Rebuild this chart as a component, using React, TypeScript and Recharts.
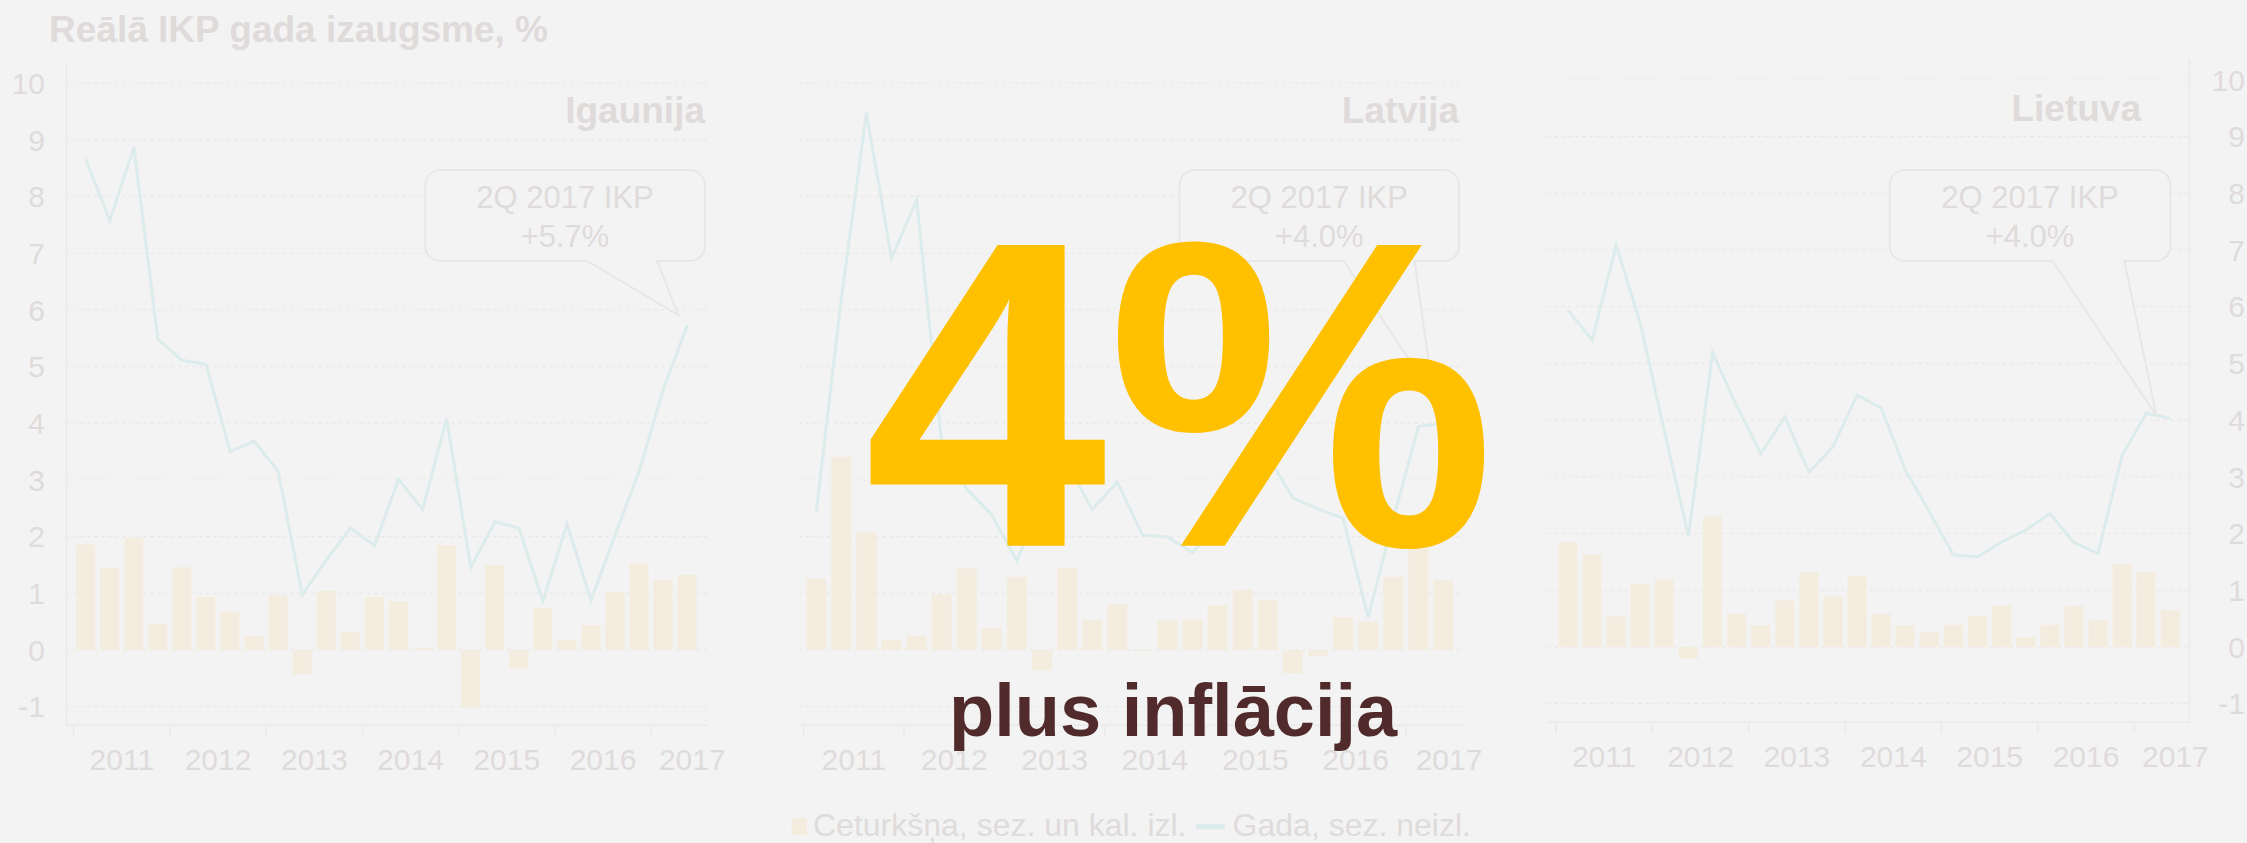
import { Bar, CartesianGrid, ComposedChart, Line, ReferenceDot, XAxis, YAxis } from 'recharts'

const quarters = [
  '2011Q1', '2011Q2', '2011Q3', '2011Q4',
  '2012Q1', '2012Q2', '2012Q3', '2012Q4',
  '2013Q1', '2013Q2', '2013Q3', '2013Q4',
  '2014Q1', '2014Q2', '2014Q3', '2014Q4',
  '2015Q1', '2015Q2', '2015Q3', '2015Q4',
  '2016Q1', '2016Q2', '2016Q3', '2016Q4',
  '2017Q1', '2017Q2',
]

const yTicks = [-1, 0, 1, 2, 3, 4, 5, 6, 7, 8, 9, 10]

// ceturkšņa pieaugums (stabiņi) un gada pieaugums (līnija)
const estoniaQoq = [1.86, 1.45, 1.98, 0.46, 1.46, 0.94, 0.68, 0.25, 0.96, -0.43, 1.04, 0.32, 0.94, 0.86, 0.04, 1.85, -1.01, 1.5, -0.33, 0.74, 0.18, 0.44, 1.03, 1.53, 1.24, 1.32]
const estoniaYoy = [8.66, 7.57, 8.87, 5.48, 5.11, 5.04, 3.5, 3.68, 3.15, 0.97, 1.59, 2.15, 1.84, 3.01, 2.48, 4.08, 1.45, 2.26, 2.15, 0.86, 2.22, 0.88, 2.03, 3.15, 4.59, 5.73]

const latviaQoq = [1.26, 3.41, 2.07, 0.18, 0.25, 0.98, 1.44, 0.39, 1.29, -0.36, 1.45, 0.53, 0.81, -0.02, 0.52, 0.54, 0.79, 1.06, 0.88, -0.41, -0.11, 0.58, 0.5, 1.29, 1.9, 1.23]
const latviaYoy = [2.44, 6.2, 9.48, 6.91, 7.94, 3.65, 2.84, 2.38, 1.57, 2.7, 3.28, 2.48, 2.96, 2.03, 1.99, 1.72, 2.2, 2.9, 3.42, 2.68, 2.49, 2.32, 0.58, 2.3, 3.94, 4.0]

const lithuaniaQoq = [1.85, 1.63, 0.54, 1.12, 1.19, -0.21, 2.3, 0.59, 0.38, 0.82, 1.32, 0.89, 1.25, 0.58, 0.38, 0.26, 0.39, 0.55, 0.73, 0.17, 0.39, 0.72, 0.47, 1.46, 1.32, 0.65]
const lithuaniaYoy = [5.94, 5.41, 7.08, 5.71, 3.8, 1.95, 5.19, 4.25, 3.41, 4.05, 3.08, 3.53, 4.44, 4.21, 3.12, 2.38, 1.62, 1.59, 1.85, 2.06, 2.35, 1.84, 1.65, 3.38, 4.12, 4.03]

const W = 2247
const H = 843
const FONT = '"Liberation Sans", Arial, Helvetica, sans-serif'
const BG = '#f3f3f3'
const TEXT = '#e0dbdb'
const BAR = '#f4eddf'
const LINE = '#dcebeb'
const AXIS = '#ebebeb'
const GRID = '#e5e5e5'
const BOX = '#e7e7e7'
const YELLOW = '#ffc000'
const BROWN = '#512a2b'
const X_AXIS_H = 60

type Side = 'left' | 'right' | 'none'

type Panel = {
  name: string
  qoq: number[]
  yoy: number[]
  left: number
  right: number
  top: number
  bottom: number
  padL: number
  padR: number
  yAxis: Side
  labelX: number
  nameX: number
  nameY: number
  box: { l: number; r: number; b1: number; b2: number; tx: number; ty: number }
}

const panels: Panel[] = [
  {
    name: 'Igaunija', qoq: estoniaQoq, yoy: estoniaYoy,
    left: 66.4, right: 707.7, top: 63.3, bottom: 725.3, padL: 7.3, padR: 8.4,
    yAxis: 'left', labelX: 45, nameX: 705, nameY: 123,
    box: { l: -262, r: 17.5, b1: -100, b2: -30, tx: -9, ty: -10 },
  },
  {
    name: 'Latvija', qoq: latviaQoq, yoy: latviaYoy,
    left: 798.8, right: 1463, top: 63.3, bottom: 725.3, padL: 4.9, padR: 7,
    yAxis: 'none', labelX: 0, nameX: 1459, nameY: 123,
    box: { l: -264, r: 15.5, b1: -99.5, b2: -29, tx: -10, ty: -27 },
  },
  {
    name: 'Lietuva', qoq: lithuaniaQoq, yoy: lithuaniaYoy,
    left: 1547.6, right: 2189.4, top: 60, bottom: 722.3, padL: 8.4, padR: 7,
    yAxis: 'right', labelX: 2245, nameX: 2141, nameY: 121,
    box: { l: -280.6, r: 0, b1: -118, b2: -46, tx: -14, ty: -3 },
  },
]

function Callout({ cx, cy, p }: { cx: number; cy: number; p: Panel }) {
  const top = 170
  const bottom = 261
  const r = 15
  const b = p.box
  const l = cx + b.l
  const rr = cx + b.r
  const d = `M${l + r},${top} H${rr - r} A${r},${r} 0 0 1 ${rr},${top + r} V${bottom - r} A${r},${r} 0 0 1 ${rr - r},${bottom} H${cx + b.b2} L${cx + b.tx},${cy + b.ty} L${cx + b.b1},${bottom} H${l + r} A${r},${r} 0 0 1 ${l},${bottom - r} V${top + r} A${r},${r} 0 0 1 ${l + r},${top} Z`
  const last = quarters[quarters.length - 1]
  const mid = (l + rr) / 2
  const value = p.yoy[p.yoy.length - 1]
  return (
    <g>
      <path d={d} fill={BG} stroke={BOX} strokeWidth={2} />
      <text x={mid} y={208} textAnchor="middle" fill={TEXT} fontSize={31} fontFamily={FONT}>
        {`${last.slice(5)}${last.slice(4, 5)} ${last.slice(0, 4)} IKP`}
      </text>
      <text x={mid} y={247} textAnchor="middle" fill={TEXT} fontSize={31} fontFamily={FONT}>
        {`+${value.toFixed(1)}%`}
      </text>
    </g>
  )
}

function ChartPanel({ p }: { p: Panel }) {
  const data = quarters.map((q, i) => ({ q, qoq: p.qoq[i], yoy: p.yoy[i] }))
  const bw = (p.right - p.padR - p.left - p.padL) / quarters.length
  const yearStarts = quarters.filter((q) => q.endsWith('Q1'))
  const yw = p.yAxis === 'left' ? p.left : p.yAxis === 'right' ? W - p.right : 0
  const margin = {
    top: p.top,
    bottom: H - p.bottom - X_AXIS_H,
    left: p.yAxis === 'left' ? 0 : p.left,
    right: p.yAxis === 'right' ? 0 : W - p.right,
  }
  const lastQ = quarters[quarters.length - 1]

  const xTick = (props: any) => {
    const { x, y, payload } = props
    const year = String(payload.value).slice(0, 4)
    const n = quarters.filter((q) => q.startsWith(year)).length
    const start = x - bw / 2
    const cx = n === 4 ? start + 2 * bw : start + 2 * bw - 7
    return (
      <g>
        <line x1={start} x2={start} y1={y} y2={y + 11} stroke={AXIS} strokeWidth={2} />
        <text x={cx} y={y + 44.7} textAnchor="middle" fill={TEXT} fontSize={30} fontFamily={FONT}>
          {year}
        </text>
      </g>
    )
  }

  const yTick = (props: any) => (
    <text x={p.labelX} y={props.y} dy="0.36em" textAnchor="end" fill={TEXT} fontSize={30} fontFamily={FONT}>
      {props.payload.value}
    </text>
  )

  return (
    <div style={{ position: 'absolute', left: 0, top: 0 }}>
      <ComposedChart width={W} height={H} data={data} margin={margin}>
        <CartesianGrid vertical={false} horizontalValues={yTicks} stroke={GRID} strokeDasharray="3 4" />
        <XAxis
          dataKey="q"
          height={X_AXIS_H}
          padding={{ left: p.padL, right: p.padR }}
          ticks={yearStarts}
          interval={0}
          tickSize={0}
          tickMargin={0}
          tickLine={false}
          axisLine={{ stroke: AXIS, strokeWidth: 2 }}
          tick={xTick}
        />
        <YAxis
          type="number"
          orientation={p.yAxis === 'right' ? 'right' : 'left'}
          hide={p.yAxis === 'none'}
          width={yw}
          domain={[-1.33, 10.35]}
          allowDataOverflow
          ticks={yTicks}
          tickSize={0}
          tickLine={false}
          axisLine={{ stroke: AXIS, strokeWidth: 2 }}
          tick={yTick}
        />
        <Bar dataKey="qoq" fill={BAR} isAnimationActive={false} />
        <Line type="linear" dataKey="yoy" stroke={LINE} strokeWidth={3} dot={false} isAnimationActive={false} />
        <ReferenceDot
          x={lastQ}
          y={p.yoy[p.yoy.length - 1]}
          r={0}
          ifOverflow="visible"
          shape={(s: any) => <Callout cx={s.cx} cy={s.cy} p={p} />}
        />
      </ComposedChart>
    </div>
  )
}

export default function App() {
  return (
    <div style={{ position: 'absolute', left: 0, top: 0, width: W, height: H, background: BG, overflow: 'hidden' }}>
      {panels.map((p) => (
        <ChartPanel key={p.name} p={p} />
      ))}
      <svg width={W} height={H} style={{ position: 'absolute', left: 0, top: 0, pointerEvents: 'none' }}>
        <text x={49} y={41.7} fill={TEXT} fontSize={37} fontWeight="bold" fontFamily={FONT}>
          Reālā IKP gada izaugsme, %
        </text>
        {panels.map((p) => (
          <text key={p.name} x={p.nameX} y={p.nameY} textAnchor="end" fill={TEXT} fontSize={37} fontWeight="bold" fontFamily={FONT}>
            {p.name}
          </text>
        ))}
        <rect x={791.5} y={818} width={15.5} height={17} fill={BAR} />
        <text x={813} y={836} fill={TEXT} fontSize={32} fontFamily={FONT}>
          Ceturkšņa, sez. un kal. izl.
        </text>
        <line x1={1196} x2={1225} y1={826.7} y2={826.7} stroke={LINE} strokeWidth={5} />
        <text x={1232.6} y={836} fill={TEXT} fontSize={32} fontFamily={FONT}>
          Gada, sez. neizl.
        </text>
        <text x={864} y={545.7} fill={YELLOW} fontSize={437} fontWeight="bold" fontFamily={FONT}>
          4%
        </text>
        <text x={949} y={736} fill={BROWN} fontSize={74} fontWeight="bold" fontFamily={FONT}>
          plus inflācija
        </text>
      </svg>
    </div>
  )
}
